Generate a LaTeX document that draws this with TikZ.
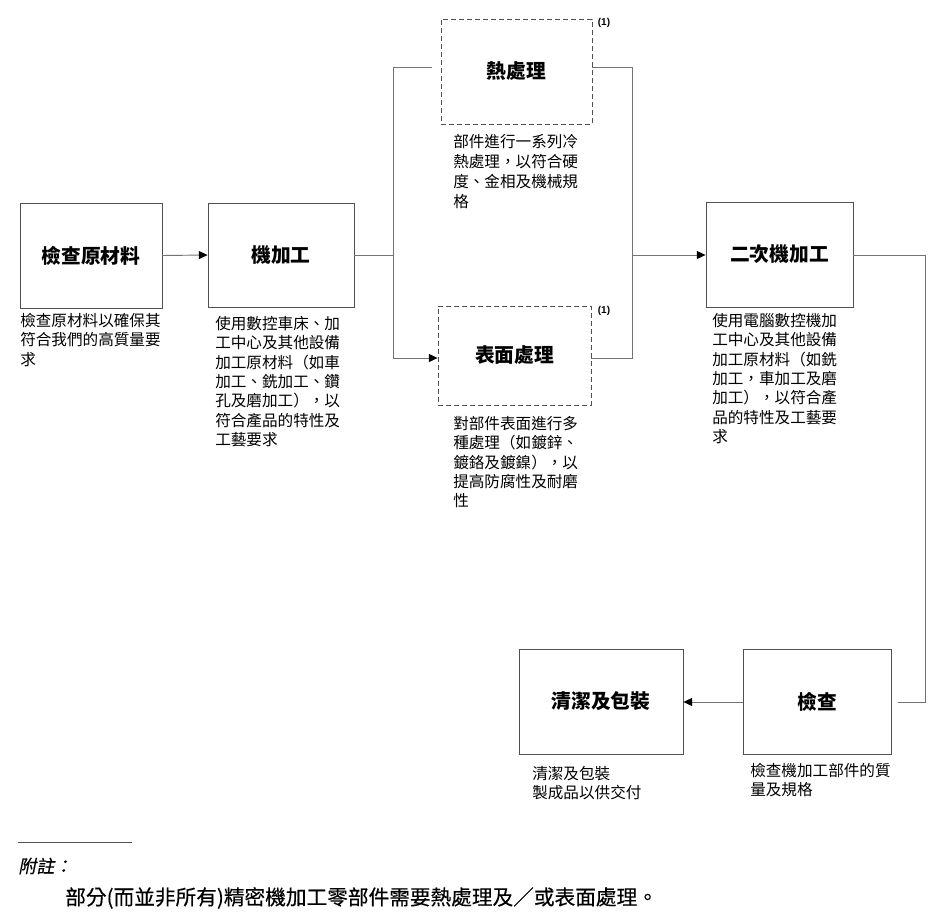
\documentclass[tikz,border=0pt]{standalone}
\usepackage{fontspec}
\setmainfont{Noto Sans CJK TC}
\newfontfamily\cjkslant[FakeSlant=0.2,FakeBold=0.3]{Noto Sans CJK TC}
\newfontfamily\cjknote[FakeBold=0.3]{Noto Sans CJK TC}
\newfontfamily\latinsans{Liberation Sans}
\usetikzlibrary{arrows.meta}
\definecolor{edgegray}{RGB}{80,80,80}
\definecolor{linegray}{RGB}{115,115,115}
\begin{document}
\begin{tikzpicture}[x=0.75pt,y=-0.75pt,
  box/.style={draw=edgegray, line width=0.65pt, inner sep=0pt, font=\fontsize{14.8}{17}\selectfont\bfseries},
  dbox/.style={box, dash pattern=on 3.6pt off 2.4pt},
  desc/.style={anchor=north west, inner sep=0pt, align=left, font=\fontsize{11.7}{14.5}\selectfont},
  conn/.style={draw=linegray, line width=0.7pt},
  arr/.style={conn, -{Triangle[length=6.5pt,width=6pt,color=black]}},
  fnmark/.style={inner sep=0pt, font=\latinsans\bfseries\fontsize{7.5}{8}\selectfont}]
\path[use as bounding box] (0,0) rectangle (946,922);

% boxes
\node[box, minimum width=106.5pt, minimum height=78.75pt] (raw) at (91,255.5) {檢查原材料};
\node[box, minimum width=109.5pt, minimum height=78pt] (mach) at (281,255) {機加工};
\node[dbox, minimum width=113.25pt, minimum height=78.75pt] (heat) at (516.5,71.5) {熱處理};
\node[dbox, minimum width=114.75pt, minimum height=74.25pt] (surf) at (514.5,355.5) {表面處理};
\node[box, minimum width=110.25pt, minimum height=78.75pt] (second) at (779.5,254.5) {二次機加工};
\node[box, minimum width=111pt, minimum height=78.75pt] (insp) at (817,701.5) {檢查};
\node[box, minimum width=123pt, minimum height=78.75pt] (clean) at (601,701.5) {清潔及包裝};

\node[fnmark] (m1) at (604,23) {(1)};
\node[fnmark] (m2) at (604,311) {(1)};

% descriptions
\node[desc] (rawd) at (20,313) {檢查原材料以確保其\\符合我們的高質量要\\求};
\node[desc] (machd) at (215,316) {使用數控車床、加\\工中心及其他設備\\加工原材料（如車\\加工、銑加工、鑽\\孔及磨加工），以\\符合產品的特性及\\工藝要求};
\node[desc, font=\fontsize{11.7}{15}\selectfont] (heatd) at (453,134) {部件進行一系列冷\\熱處理，以符合硬\\度、金相及機械規\\格};
\node[desc] (surfd) at (453,416) {對部件表面進行多\\種處理（如鍍鋅、\\鍍鉻及鍍鎳），以\\提高防腐性及耐磨\\性};
\node[desc] (secondd) at (712,313) {使用電腦數控機加\\工中心及其他設備\\加工原材料（如銑\\加工，車加工及磨\\加工），以符合產\\品的特性及工藝要\\求};
\node[desc] (cleand) at (532,766) {清潔及包裝\\製成品以供交付};
\node[desc] (inspd) at (750,763) {檢查機加工部件的質\\量及規格};

% connector coordinates
\coordinate (splitL) at (393,255);
\coordinate (topL) at (393,67);
\coordinate (topLend) at (432,67);
\coordinate (botL) at (393,358);
\coordinate (topR) at (632,67);
\coordinate (botR) at (632,358);
\coordinate (joinR) at (632,255);
\coordinate (sideA) at (925,255);
\coordinate (sideB) at (925,702);
\coordinate (sideEnd) at (898,702);

% connectors
\draw[arr] (raw.east) -- (mach.west);
\draw[conn] (mach.east) -- (splitL);
\draw[conn] (topLend) -- (topL) -- (botL);
\draw[arr] (botL) -- (surf.west |- botL);
\draw[conn] (heat.east |- topR) -- (topR) -- (botR) -- (surf.east |- botR);
\draw[arr] (joinR) -- (second.west |- joinR);
\draw[conn] (second.east |- sideA) -- (sideA) -- (sideB) -- (sideEnd);
\draw[arr] (insp.west |- sideB) -- (clean.east |- sideB);

% footnote
\coordinate (ruleA) at (18,842);
\coordinate (ruleB) at (132,842);
\draw[line width=0.6pt, draw=edgegray] (ruleA) -- (ruleB);
\node[anchor=west, inner sep=0pt, font=\cjkslant\fontsize{13.5}{15}\selectfont] (fnhead) at (18,866) {附註：};
\node[anchor=west, inner sep=0pt, font=\cjknote\fontsize{15.5}{18}\selectfont] (fntext) at (65,898) {部分(而並非所有)精密機加工零部件需要熱處理及／或表面處理。};
\end{tikzpicture}
\end{document}
